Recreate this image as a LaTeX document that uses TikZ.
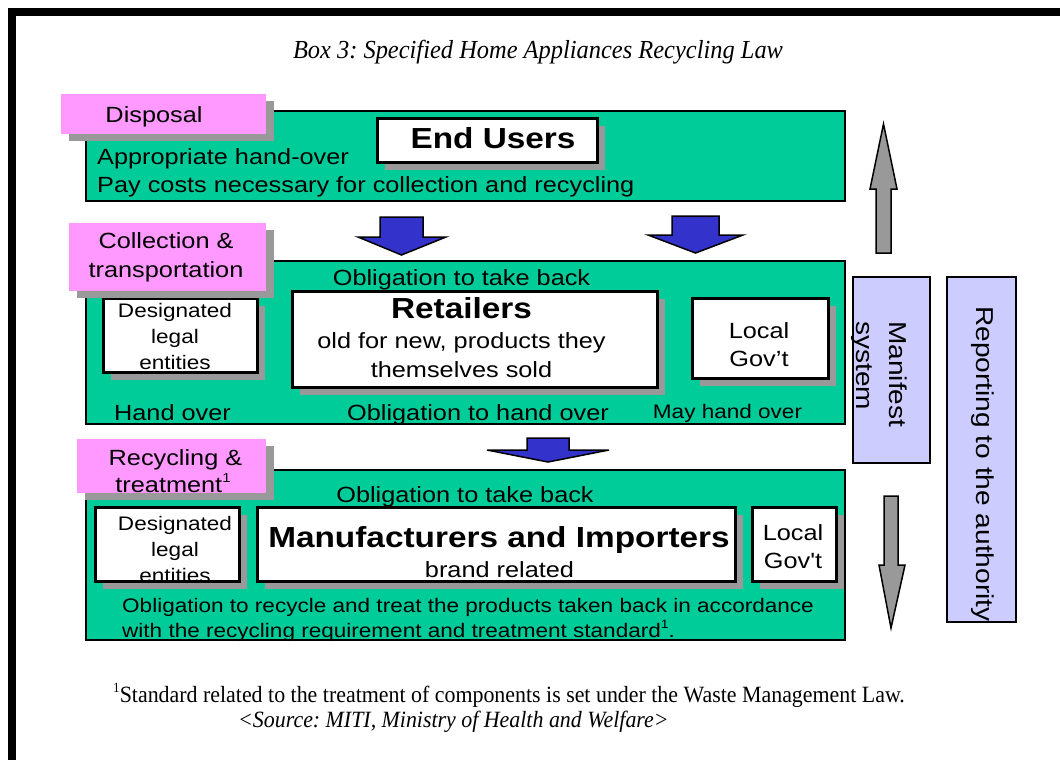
\documentclass[tikz,border=0pt]{standalone}
\usepackage{fontspec}
\newfontfamily\arialw[FakeStretch=1.15]{Liberation Sans}
\newfontfamily\serifc[FakeStretch=0.94]{Liberation Serif}
\usetikzlibrary{shadows}
\frenchspacing
\definecolor{boxgreen}{RGB}{0,204,153}
\definecolor{labelpink}{RGB}{255,153,255}
\definecolor{arrowblue}{RGB}{51,51,204}
\definecolor{lavender}{RGB}{204,204,255}
\definecolor{shadowgrey}{RGB}{153,153,153}
\newcommand\myfn[1]{\raisebox{0.42em}{\fontsize{#1}{#1}\selectfont 1}}
\tikzset{
  greenbox/.style={draw=black, line width=2pt, fill=boxgreen, anchor=north west, inner sep=0pt, outer sep=0pt},
  whitebox/.style={draw=black, line width=3pt, fill=white, anchor=north west, inner sep=0pt, outer sep=0pt,
     drop shadow={shadow xshift=8pt, shadow yshift=-8pt, fill=shadowgrey, opacity=1}},
  pinklabel/.style={fill=labelpink, draw=none, anchor=north west, inner sep=0pt, outer sep=0pt,
     drop shadow={shadow xshift=8pt, shadow yshift=-7pt, fill=shadowgrey, opacity=1}},
  lavbox/.style={draw=black, line width=2pt, fill=lavender, anchor=north west, inner sep=0pt, outer sep=0pt},
  txt/.style={inner sep=0pt, font=\arialw\fontsize{22}{29}\selectfont},
  smalltxt/.style={inner sep=0pt, font=\arialw\fontsize{19.6}{26}\selectfont},
  vtxt/.style={inner sep=0pt, font=\arialw\fontsize{24.4}{33}\selectfont},
  boldtxt/.style={inner sep=0pt, font=\arialw\bfseries\fontsize{29}{34}\selectfont},
  serif/.style={inner sep=0pt, font=\serifc\fontsize{23.3}{26}\selectfont},
  bluearrow/.style={draw=black, line width=1.5pt, fill=arrowblue, line join=miter},
  greyarrow/.style={draw=black, line width=1.5pt, fill=shadowgrey, line join=miter},
  border2/.style={draw=black, line width=2pt},
  border3/.style={draw=black, line width=3pt}
}
\begin{document}
\begin{tikzpicture}[x=1pt, y=-1pt]
\useasboundingbox[fill=white] (0,0) rectangle (1060,760);
% outer frame
\fill[black] (8,8) rectangle (1060,16);
\fill[black] (8,8) rectangle (16,760);

% title
\node[serif, font=\serifc\itshape\fontsize{26}{30}\selectfont, anchor=base] (title) at (538,59) {Box 3: Specified Home Appliances Recycling Law};

% ---------- row 1 ----------
\node[greenbox, minimum width=759pt, minimum height=90pt] (g1) at (86,111) {};
\node[whitebox, minimum width=220pt, minimum height=44pt] (eu) at (377,118) {};
\node[boldtxt, anchor=base] (eut) at (493,148) {End Users};
\node[txt, anchor=base west] (r1a) at (97,164) {Appropriate hand-over};
\node[txt, anchor=base west] (r1b) at (97,192) {Pay costs necessary for collection and recycling};
\node[pinklabel, minimum width=205pt, minimum height=40pt] (p1) at (61,94) {};
\node[txt, anchor=base] (p1t) at (154,122) {Disposal};

% blue arrows row1 -> row2
\fill[bluearrow] (380,217) -- (423,217) -- (423,237) -- (446,237) -- (401.5,255) -- (358,237) -- (380,237) -- cycle;
\fill[bluearrow] (672,216) -- (719,216) -- (719,235) -- (743,235) -- (695.5,253) -- (648,235) -- (672,235) -- cycle;

% grey up arrow
\fill[greyarrow] (876,253) -- (891,253) -- (891,189) -- (897,189) -- (883.5,124) -- (870,189) -- (876,189) -- cycle;

% ---------- row 2 ----------
\node[greenbox, minimum width=759pt, minimum height=163pt] (g2) at (86,261) {};

\node[whitebox, minimum width=154pt, minimum height=74pt] (d2) at (103,298) {};
\node[smalltxt, anchor=base] (d2a) at (175,317) {Designated};
\node[smalltxt, anchor=base] (d2b) at (175,343) {legal};
\node[smalltxt, anchor=base] (d2c) at (175,369) {entities};
\draw[border3] (d2.north west) rectangle (d2.south east);

\node[whitebox, minimum width=365pt, minimum height=96pt] (ret) at (292,291) {};
\node[boldtxt, anchor=base] (rett) at (461.5,318) {Retailers};
\node[txt, anchor=base] (reta) at (461.5,348) {old for new, products they};
\node[txt, anchor=base] (retb) at (461.5,377) {themselves sold};

\node[whitebox, minimum width=136pt, minimum height=80pt] (lg2) at (692,298) {};
\node[txt, anchor=base] (lg2a) at (759,338) {Local};
\node[txt, anchor=base] (lg2b) at (759,366) {Gov’t};

\node[txt, anchor=base] (ob2) at (461.5,285) {Obligation to take back};
\node[txt, anchor=base] (ho) at (172.5,420) {Hand over};
\node[txt, anchor=base] (oho) at (478,420) {Obligation to hand over};
\node[smalltxt, anchor=base] (mho) at (727.5,418) {May hand over};
\draw[border2] (g2.north west) rectangle (g2.south east);

\node[pinklabel, minimum width=197pt, minimum height=68pt] (p2) at (69,223) {};
\node[txt, anchor=base] (p2a) at (166,248) {Collection \&};
\node[txt, anchor=base] (p2b) at (166,277) {transportation};

% manifest & reporting
\node[lavbox, minimum width=77pt, minimum height=186pt] (man) at (853,277) {};
\node[vtxt, rotate=-90, anchor=west, align=left] (mant) at (879,321) {Manifest\\system};
\node[lavbox, minimum width=69pt, minimum height=345pt] (rep) at (947,277) {};
\node[vtxt, rotate=-90] (rept) at (983,464) {Reporting to the authority};

% blue arrow row2 -> row3
\fill[bluearrow] (527,438) -- (569,438) -- (569,450) -- (609,450) -- (548,462) -- (487,450) -- (527,450) -- cycle;

% grey down arrow
\fill[greyarrow] (884,496) -- (898,496) -- (898,565) -- (905,565) -- (891,628) -- (879,565) -- (884,565) -- cycle;

% ---------- row 3 ----------
\node[greenbox, minimum width=759pt, minimum height=170pt] (g3) at (86,470) {};

\node[whitebox, minimum width=144pt, minimum height=74pt] (d3) at (95,507) {};
\node[smalltxt, anchor=base] (d3a) at (175,530) {Designated};
\node[smalltxt, anchor=base] (d3b) at (175,556) {legal};
\node[smalltxt, anchor=base] (d3c) at (175,582) {entities};
\draw[border3] (d3.north west) rectangle (d3.south east);

\node[whitebox, minimum width=478pt, minimum height=74pt] (mi) at (257,507) {};
\node[boldtxt, anchor=base] (mit) at (499,547) {Manufacturers and Importers};
\node[txt, anchor=base] (mia) at (499.5,577) {brand related};

\node[whitebox, minimum width=84pt, minimum height=74pt] (lg3) at (752,507) {};
\node[txt, anchor=base] (lg3a) at (793,540) {Local};
\node[txt, anchor=base] (lg3b) at (793,568) {Gov't};

\node[txt, anchor=base] (ob3) at (465,502) {Obligation to take back};
\node[smalltxt, anchor=base west] (r3a) at (122,612) {Obligation to recycle and treat the products taken back in accordance};
\node[smalltxt, anchor=base west] (r3b) at (122,637) {with the recycling requirement and treatment standard\myfn{12}.};
\draw[border2] (g3.north west) rectangle (g3.south east);

\node[pinklabel, minimum width=189pt, minimum height=54pt] (p3) at (77,439) {};
\node[txt, anchor=base] (p3a) at (175.5,465) {Recycling \&};
\node[txt, anchor=base] (p3b) at (173,492) {treatment\myfn{13}};

% footnote
\node[serif, anchor=base west] (fn) at (113,702) {\myfn{14}Standard related to the treatment of components is set under the Waste Management Law.};
\node[serif, font=\serifc\itshape\fontsize{23.3}{26}\selectfont, anchor=base west] (src) at (238,727) {<Source: MITI, Ministry of Health and Welfare>};
\end{tikzpicture}
\end{document}
